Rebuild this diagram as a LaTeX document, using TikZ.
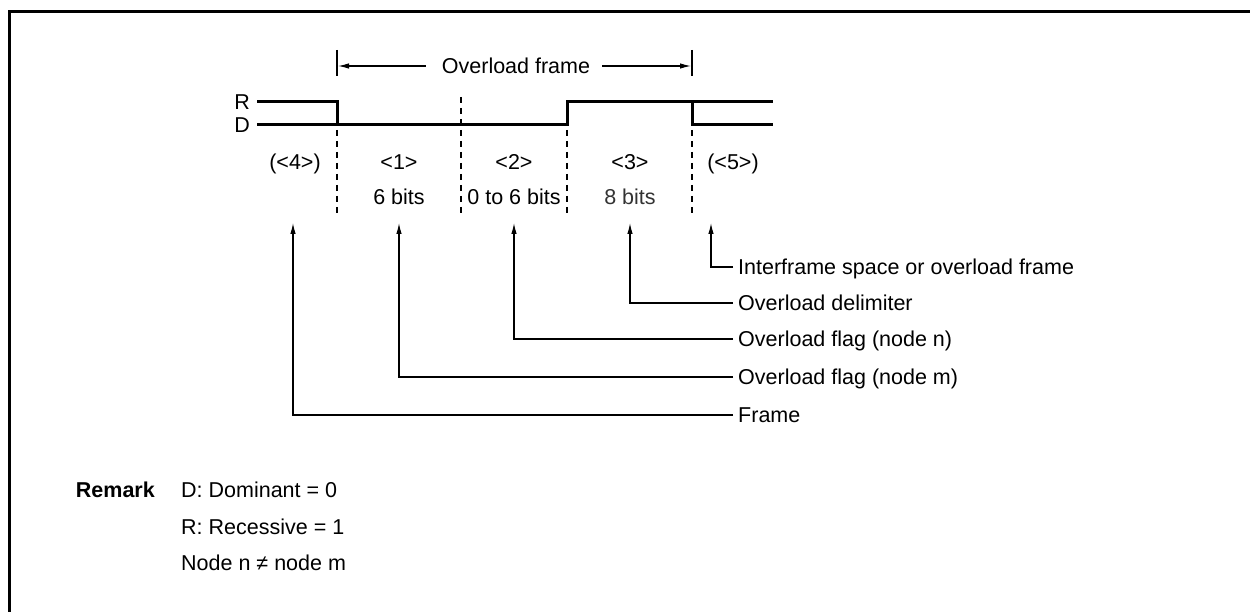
\documentclass[tikz,border=0pt]{standalone}
\usepackage{fontspec}
\setmainfont{Liberation Sans}
\usetikzlibrary{arrows.meta,positioning}
\tikzset{sigline/.style={line width=3pt},
 bitgrid/.style={line width=1.1pt,dash pattern=on 6pt off 5pt},
 ptr/.style={-{Latex[length=11pt,width=5.5pt]},line width=1.2pt},
 txt/.style={font=\fontsize{21.5}{25}\selectfont,inner xsep=0pt,inner ysep=0pt,
 text height=15pt,text depth=0pt},
 callout/.style={txt,anchor=west,inner xsep=5pt}}

\begin{document}
\begin{tikzpicture}[x=1pt,y=-1pt]
\useasboundingbox (0,0) rectangle (1250,612);
% outer frame
\draw[line width=3.5pt] (9.5,612) -- (9.5,11.5) -- (1250,11.5);
% overload frame span
\draw[line width=1.1pt] (337,50) -- (337,76);
\draw[line width=1.1pt] (692,50) -- (692,76);
\node[txt] (ovl) at (516,66) {Overload frame};
\coordinate (ovlL) at (338,66);
\coordinate (ovlR) at (691,66);
\draw[ptr] ([xshift=-16pt]ovl.west) -- (ovlL);
\draw[ptr] ([xshift=12pt]ovl.east) -- (ovlR);
% bus levels
\node[txt,anchor=east] (lvR) at (250,102) {R};
\node[txt,anchor=east] (lvD) at (250,125) {D};
\draw[sigline] (257,102) -- (337,102) -- (337,125) -- (567,125) -- (567,102)
 -- (692,102) -- (692,125) -- (773,125);
\draw[sigline] (257,125) -- (337,125);
\draw[sigline] (692,102) -- (773,102);
% field boundaries
\foreach \x in {337,567,692}
 \draw[bitgrid] (\x,130) -- (\x,216);
\draw[bitgrid] (461,97) -- (461,216);
% field labels
\node[txt] (f4) at (295,162) {(<4>)};
\node[txt] (f1) at (399,162) {<1>};
\node[txt] (f2) at (514,162) {<2>};
\node[txt] (f3) at (630,162) {<3>};
\node[txt] (f5) at (733,162) {(<5>)};
\node[txt] (b1) at (399,197) {6 bits};
\node[txt] (b2) at (514,197) {0 to 6 bits};
\node[txt,text=black!80] (b3) at (630,197) {8 bits};
% callouts
\coordinate (tI) at (711,223);
\coordinate (tD) at (630,223);
\coordinate (tN) at (514,223);
\coordinate (tM) at (399,223);
\coordinate (tF) at (293,223);
\node[callout] (cI) at (733,267) {Interframe space or overload frame};
\node[callout] (cD) at (733,303) {Overload delimiter};
\node[callout] (cN) at (733,339) {Overload flag (node n)};
\node[callout] (cM) at (733,377) {Overload flag (node m)};
\node[callout] (cF) at (733,415) {Frame};
\draw[ptr] (cI.west) -| (tI);
\draw[ptr] (cD.west) -| (tD);
\draw[ptr] (cN.west) -| (tN);
\draw[ptr] (cM.west) -| (tM);
\draw[ptr] (cF.west) -| (tF);
% remark
\node[txt,anchor=east] (rmk) at (155,490) {\bfseries Remark};
\node[txt,anchor=west] (rm1) at (181,490) {D: Dominant = 0};
\node[txt,anchor=west] (rm2) at (181,527) {R: Recessive = 1};
\node[txt,anchor=west] (rm3) at (181,563) {Node n ≠ node m};
\end{tikzpicture}
\end{document}
